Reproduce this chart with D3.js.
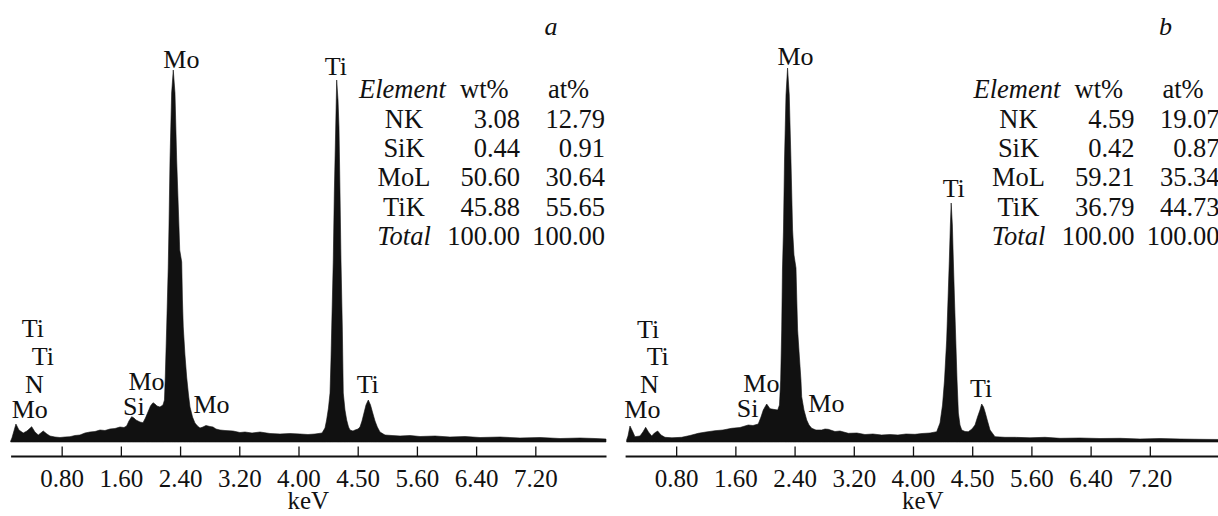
<!DOCTYPE html>
<html>
<head>
<meta charset="utf-8">
<script src="https://cdnjs.cloudflare.com/ajax/libs/d3/7.8.5/d3.min.js"></script>
<style>
  body { margin: 0; background: #fff; }
  svg { display: block; }
</style>
</head>
<body>
<svg></svg>
<script>
// EDS spectrum a: energy (keV) / counts
const keVA = [
  0.111,0.128,0.182,0.223,0.281,0.331,0.395,0.439,0.484,0.551,
  0.601,0.642,0.709,0.777,0.845,0.912,0.98,1.047,1.115,1.182,
  1.25,1.318,1.385,1.453,1.52,1.588,1.642,1.678,1.709,1.746,
  1.777,1.804,1.858,1.899,1.932,1.966,2.0,2.034,2.061,2.088,
  2.128,2.169,2.189,2.2,2.219,2.24,2.25,2.264,2.286,2.308,
  2.331,2.354,2.385,2.395,2.422,2.432,2.443,2.466,2.489,2.514,
  2.534,2.568,2.601,2.635,2.669,2.709,2.75,2.804,2.845,2.885,
  2.939,3.007,3.115,3.209,3.277,3.372,3.48,3.615,3.75,3.885,
  4.02,4.128,4.223,4.318,4.358,4.38,4.405,4.426,4.439,4.449,
  4.47,4.484,4.503,4.516,4.534,4.547,4.561,4.574,4.592,4.605,
  4.628,4.651,4.676,4.696,4.736,4.764,4.804,4.831,4.858,4.885,
  4.912,4.943,4.973,5.003,5.034,5.065,5.101,5.169,5.264,5.372,
  5.507,5.642,5.845,6.047,6.25,6.453,6.723,6.993,7.264,7.534,
  7.804,8.007,8.155
]
const cntA = [
  10,40,180,120,90,110,153,100,70,110,
  80,60,50,45,50,53,65,70,90,100,
  105,120,115,130,135,150,145,160,210,253,
  240,220,200,193,240,300,360,393,380,360,
  350,370,420,650,1150,1750,2150,2820,3490,3720,
  3490,2820,2150,1920,1800,1420,1150,870,650,470,
  350,250,190,160,140,150,165,155,150,130,
  120,115,110,95,100,90,100,85,80,85,
  80,75,80,90,140,220,340,490,820,1150,
  1820,2490,3150,3620,3420,3150,2490,1820,1150,490,
  320,220,150,120,110,120,130,150,210,290,
  370,420,370,290,210,150,100,70,65,60,
  65,55,60,50,55,45,50,40,45,35,
  40,35,30
]

// EDS spectrum b
const keVB = [
  0.131,0.149,0.176,0.209,0.243,0.311,0.351,0.388,0.426,0.469,
  0.507,0.55,0.595,0.649,0.743,0.874,0.986,1.099,1.203,1.324,
  1.432,1.55,1.662,1.774,1.838,1.909,1.946,1.977,2.023,2.068,
  2.112,2.172,2.196,2.212,2.226,2.236,2.25,2.264,2.284,2.305,
  2.328,2.351,2.373,2.392,2.419,2.43,2.441,2.466,2.486,2.496,
  2.527,2.564,2.595,2.632,2.689,2.766,2.811,2.855,2.946,3.014,
  3.126,3.243,3.351,3.459,3.577,3.689,3.797,3.905,4.027,4.122,
  4.23,4.32,4.365,4.399,4.426,4.455,4.473,4.491,4.505,4.516,
  4.532,4.545,4.561,4.578,4.595,4.613,4.635,4.659,4.703,4.747,
  4.797,4.838,4.872,4.905,4.928,4.953,4.973,5.007,5.041,5.108,
  5.243,5.378,5.581,5.784,5.986,6.257,6.527,6.797,7.068,7.338,
  7.608,7.878,8.162
]
const cntB = [
  20,60,160,110,53,60,100,147,100,60,
  90,110,70,47,42,47,65,87,100,113,
  120,137,145,170,165,180,250,320,380,333,
  327,320,370,620,1120,1720,2120,2820,3470,3740,
  3470,2820,2120,1870,1740,1420,1120,840,620,453,
  320,220,170,137,120,120,130,127,105,110,
  87,90,75,80,70,75,70,80,77,85,
  90,103,190,370,620,1020,1420,1820,2170,2390,
  2170,1820,1420,1020,620,290,170,120,105,103,
  130,170,250,320,380,350,303,210,120,53,
  47,47,42,47,37,40,35,37,30,35,
  30,27,25
]

// x axis ticks (the 4.80 tick is printed as 4.50 in the original)
const tickVals = [0.8, 1.6, 2.4, 3.2, 4.0, 4.8, 5.6, 6.4, 7.2]
const tickLabels = ['0.80', '1.60', '2.40', '3.20', '4.00', '4.50', '5.60', '6.40', '7.20']

// peak labels (keV, counts of text baseline start)
const peakTxtA = ['Ti', 'Ti', 'N', 'Mo', 'Mo', 'Si', 'Mo', 'Mo', 'Ti', 'Ti']
const peakKeVA = [0.26, 0.395, 0.304, 0.124, 1.703, 1.628, 2.581, 2.173, 4.355, 4.786]
const peakCntA = [1053, 770, 493, 237, 520, 270, 295, 3745, 3670, 490]
const peakTxtB = ['Ti', 'Ti', 'N', 'Mo', 'Mo', 'Si', 'Mo', 'Mo', 'Ti', 'Ti']
const peakKeVB = [0.27, 0.401, 0.311, 0.099, 1.707, 1.618, 2.585, 2.169, 4.401, 4.77]
const peakCntB = [1040, 770, 493, 237, 503, 247, 303, 3770, 2453, 453]

// composition tables
const elements = ['NK', 'SiK', 'MoL', 'TiK', 'Total']
const wtA = ['3.08', '0.44', '50.60', '45.88', '100.00']
const atA = ['12.79', '0.91', '30.64', '55.65', '100.00']
const wtB = ['4.59', '0.42', '59.21', '36.79', '100.00']
const atB = ['19.07', '0.87', '35.34', '44.73', '100.00']

let w = 1218
let h = 516
const font = "'Liberation Serif', 'Times New Roman', serif"
const ink = '#111'

const svg = d3.select('svg')
  .attr('width', w)
  .attr('height', h)
  .attr('font-family', font)

svg.append('rect').attr('width', w).attr('height', h).attr('fill', '#fff')

// Scales (same for both panels)
const xScale = d3.scaleLinear()
  .domain([0.11, 8.155])
  .range([10.6, 606])

const yScale = d3.scaleLinear()
  .domain([0, 3720])
  .range([442, 70])

function drawPanel(offset, keV, cnt, pTxt, pKeV, pCnt, letter, wt, at) {
  const g = svg.append('g').attr('transform', 'translate(' + offset + ',0)')

  // spectrum
  const area = d3.area()
    .x(d => xScale(d[0]))
    .y0(yScale(0))
    .y1(d => yScale(d[1]))

  g.append('path')
    .datum(d3.zip(keV, cnt))
    .attr('d', area)
    .attr('fill', ink)
    .attr('stroke', ink)
    .attr('stroke-width', 0.6)

  // axis
  const xAxis = d3.axisBottom(xScale)
    .tickValues(tickVals)
    .tickFormat((d, i) => tickLabels[i])
    .tickSizeInner(-9.5)
    .tickSizeOuter(0)
    .tickPadding(13.3)

  const ax = g.append('g')
    .attr('transform', 'translate(0,456)')
    .call(xAxis)
    .attr('font-family', font)
    .attr('font-size', 25)

  ax.select('.domain').attr('stroke', ink).attr('stroke-width', 1.8)
  ax.selectAll('.tick line').attr('stroke', ink).attr('stroke-width', 1.3)
  ax.selectAll('.tick text').attr('fill', ink)

  g.append('text')
    .attr('x', (xScale.range()[0] + xScale.range()[1]) / 2)
    .attr('y', 509)
    .attr('text-anchor', 'middle')
    .attr('font-size', 25)
    .attr('fill', ink)
    .text('keV')

  // peak labels
  g.selectAll('.peak')
    .data(pTxt)
    .enter()
    .append('text')
    .attr('class', 'peak')
    .attr('x', (d, i) => xScale(pKeV[i]))
    .attr('y', (d, i) => yScale(pCnt[i]))
    .attr('font-size', 26)
    .attr('fill', ink)
    .text(d => d)

  // panel letter
  g.append('text')
    .attr('x', 544.5)
    .attr('y', 35)
    .attr('font-size', 26)
    .attr('font-style', 'italic')
    .attr('fill', ink)
    .text(letter)

  // table
  const t = g.append('g').attr('font-size', 26.5).attr('fill', ink)
  t.append('text').attr('x', 359).attr('y', 98).attr('font-style', 'italic').text('Element')
  t.append('text').attr('x', 460).attr('y', 98).text('wt%')
  t.append('text').attr('x', 548).attr('y', 98).text('at%')

  const rowY = i => 127.5 + i * 29.4

  t.selectAll('.el')
    .data(elements)
    .enter()
    .append('text')
    .attr('x', 404)
    .attr('y', (d, i) => rowY(i))
    .attr('text-anchor', 'middle')
    .attr('font-style', d => d == 'Total' ? 'italic' : 'normal')
    .text(d => d)

  t.selectAll('.wt')
    .data(wt)
    .enter()
    .append('text')
    .attr('x', 520)
    .attr('y', (d, i) => rowY(i))
    .attr('text-anchor', 'end')
    .text(d => d)

  t.selectAll('.at')
    .data(at)
    .enter()
    .append('text')
    .attr('x', 605)
    .attr('y', (d, i) => rowY(i))
    .attr('text-anchor', 'end')
    .text(d => d)
}

drawPanel(0, keVA, cntA, peakTxtA, peakKeVA, peakCntA, 'a', wtA, atA)
drawPanel(614.5, keVB, cntB, peakTxtB, peakKeVB, peakCntB, 'b', wtB, atB)
</script>
</body>
</html>
